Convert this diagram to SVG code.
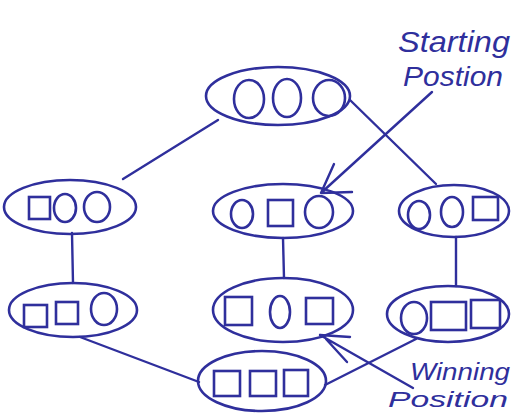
<svg xmlns="http://www.w3.org/2000/svg" width="512" height="413" viewBox="0 0 512 413">
<style>
.n{fill:none;stroke:#2f2f9c;stroke-width:2.6}
.e{fill:none;stroke:#2f2f9c;stroke-width:2.4;stroke-linecap:round}
.t{font-family:"Liberation Sans",sans-serif;fill:#2f2f9c;font-style:italic}
</style>
<rect width="512" height="413" fill="#ffffff"/>
<g id="connectors" class="e">
<line x1="218" y1="120" x2="123" y2="179"/>
<line x1="350" y1="100" x2="436" y2="184"/>
<line x1="72" y1="233" x2="73" y2="283"/>
<line x1="283" y1="238" x2="284" y2="278"/>
<line x1="456" y1="237" x2="456" y2="286"/>
<line x1="80" y1="337" x2="199" y2="382"/>
<line x1="325" y1="385" x2="416" y2="339"/>
<path d="M432,92 L321,193 M321,193 L334,164 M321,193 L352,192"/>
<path d="M413,388 L320,335 M347,362 L326,339 M320,335 L350,337"/>
</g>
<g id="n_top" class="n">
<ellipse cx="278" cy="96" rx="72" ry="29"/>
<ellipse cx="249" cy="99" rx="15" ry="19"/>
<ellipse cx="287" cy="98" rx="14" ry="19"/>
<ellipse cx="329" cy="98" rx="16" ry="18"/>
</g>
<g id="n_l2" class="n">
<ellipse cx="70" cy="207" rx="66" ry="27"/>
<rect x="29" y="197" width="21" height="22"/>
<ellipse cx="65" cy="208" rx="11" ry="14"/>
<ellipse cx="97" cy="207" rx="13" ry="15"/>
</g>
<g id="n_m2" class="n">
<ellipse cx="283" cy="211" rx="70" ry="27"/>
<ellipse cx="242" cy="214" rx="11" ry="14"/>
<rect x="268" y="200" width="25" height="26"/>
<ellipse cx="319" cy="212" rx="14" ry="16"/>
</g>
<g id="n_r2" class="n">
<ellipse cx="454" cy="211" rx="55" ry="26"/>
<ellipse cx="419" cy="215" rx="11" ry="14"/>
<ellipse cx="452" cy="212" rx="11" ry="15"/>
<rect x="473" y="197" width="25" height="23"/>
</g>
<g id="n_l3" class="n">
<ellipse cx="73" cy="310" rx="64" ry="27"/>
<rect x="24" y="305" width="23" height="22"/>
<rect x="56" y="302" width="22" height="22"/>
<ellipse cx="104" cy="309" rx="13" ry="16"/>
</g>
<g id="n_m3" class="n">
<ellipse cx="283" cy="310" rx="70" ry="32"/>
<rect x="225" y="297" width="27" height="28"/>
<ellipse cx="280" cy="312" rx="10" ry="16"/>
<rect x="306" y="298" width="27" height="26"/>
</g>
<g id="n_r3" class="n">
<ellipse cx="448" cy="314" rx="61" ry="28"/>
<ellipse cx="414" cy="318" rx="13" ry="16"/>
<rect x="431" y="302" width="35" height="28"/>
<rect x="471" y="300" width="29" height="28"/>
</g>
<g id="n_bot" class="n">
<ellipse cx="262" cy="381" rx="64" ry="30"/>
<rect x="214" y="371" width="26" height="25"/>
<rect x="250" y="371" width="26" height="25"/>
<rect x="284" y="370" width="24" height="26"/>
</g>
<g id="labels" class="t">
<text x="398" y="52" font-size="30" textLength="112" lengthAdjust="spacingAndGlyphs">Starting</text>
<text x="403" y="86" font-size="28" textLength="100" lengthAdjust="spacingAndGlyphs">Postion</text>
<text x="410" y="380" font-size="24" textLength="100" lengthAdjust="spacingAndGlyphs">Winning</text>
<text x="388" y="407" font-size="22" textLength="120" lengthAdjust="spacingAndGlyphs">Position</text>
</g>
</svg>
